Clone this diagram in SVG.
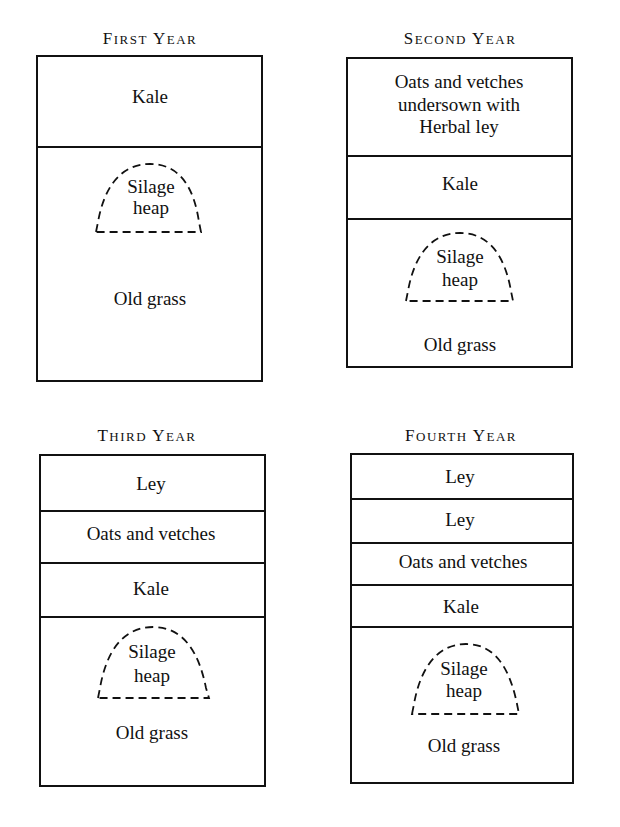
<svg xmlns="http://www.w3.org/2000/svg" width="620" height="827" viewBox="0 0 620 827">
<style>
.bg{fill:#fff}
.box{fill:none;stroke:#111;stroke-width:2}
.div{stroke:#111;stroke-width:2}
.heap{fill:none;stroke:#111;stroke-width:1.8;stroke-dasharray:8 5}
.t{font-family:"Liberation Serif","Times New Roman",serif;font-size:19px;fill:#111;text-anchor:middle}
.h{font-family:"Liberation Serif","Times New Roman",serif;font-size:17px;fill:#111;text-anchor:middle;letter-spacing:1.5px}
.s{font-size:13px}
</style>
<rect class="bg" width="620" height="827"/>
<g id="first-year">
<text class="h" x="150" y="44">F<tspan class="s">IRST</tspan> Y<tspan class="s">EAR</tspan></text>
<rect class="box" x="37" y="56" width="225" height="325"/>
<line class="div" x1="37" y1="147" x2="262" y2="147"/>
<text class="t" x="150" y="103">Kale</text>
<path class="heap" d="M96,232 L98,222 C104,188 120,164 150,164 C180,164 194,188 199,222 L201,232 Z"/>
<text class="t" x="151" y="193">Silage</text>
<text class="t" x="151" y="214">heap</text>
<text class="t" x="150" y="305">Old grass</text>
</g>
<g id="second-year">
<text class="h" x="460" y="44">S<tspan class="s">ECOND</tspan> Y<tspan class="s">EAR</tspan></text>
<rect class="box" x="347" y="58" width="225" height="309"/>
<line class="div" x1="347" y1="156" x2="572" y2="156"/>
<line class="div" x1="347" y1="219" x2="572" y2="219"/>
<text class="t" x="459" y="88">Oats and vetches</text>
<text class="t" x="459" y="111">undersown with</text>
<text class="t" x="459" y="133">Herbal ley</text>
<text class="t" x="460" y="190">Kale</text>
<path class="heap" d="M406,301 L408,291 C414,257 430,233 460,233 C490,233 505,257 511,291 L513,301 Z"/>
<text class="t" x="460" y="263">Silage</text>
<text class="t" x="460" y="286">heap</text>
<text class="t" x="460" y="351">Old grass</text>
</g>
<g id="third-year">
<text class="h" x="147" y="441">T<tspan class="s">HIRD</tspan> Y<tspan class="s">EAR</tspan></text>
<rect class="box" x="40" y="455" width="225" height="331"/>
<line class="div" x1="40" y1="511" x2="265" y2="511"/>
<line class="div" x1="40" y1="563" x2="265" y2="563"/>
<line class="div" x1="40" y1="617" x2="265" y2="617"/>
<text class="t" x="151" y="490">Ley</text>
<text class="t" x="151" y="540">Oats and vetches</text>
<text class="t" x="151" y="595">Kale</text>
<path class="heap" d="M98,698 L100,688 C106,653 122,627 153,627 C184,627 199,653 206,688 L209,698 Z"/>
<text class="t" x="152" y="658">Silage</text>
<text class="t" x="152" y="682">heap</text>
<text class="t" x="152" y="739">Old grass</text>
</g>
<g id="fourth-year">
<text class="h" x="461" y="441">F<tspan class="s">OURTH</tspan> Y<tspan class="s">EAR</tspan></text>
<rect class="box" x="351" y="454" width="222" height="329"/>
<line class="div" x1="351" y1="499" x2="573" y2="499"/>
<line class="div" x1="351" y1="543" x2="573" y2="543"/>
<line class="div" x1="351" y1="585" x2="573" y2="585"/>
<line class="div" x1="351" y1="627" x2="573" y2="627"/>
<text class="t" x="460" y="483">Ley</text>
<text class="t" x="460" y="526">Ley</text>
<text class="t" x="463" y="568">Oats and vetches</text>
<text class="t" x="461" y="613">Kale</text>
<path class="heap" d="M412,714 L414,704 C420,670 436,644 466,644 C496,644 510,670 517,704 L519,714 Z"/>
<text class="t" x="464" y="675">Silage</text>
<text class="t" x="464" y="697">heap</text>
<text class="t" x="464" y="752">Old grass</text>
</g>
<g id="connectors"></g>
</svg>
